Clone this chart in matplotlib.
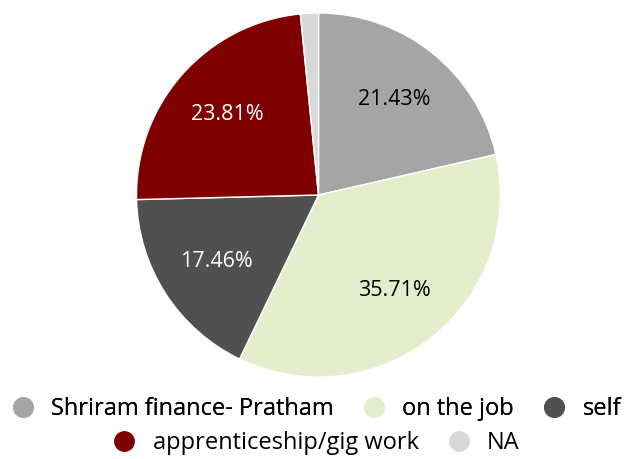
import matplotlib
matplotlib.use('Agg')
import matplotlib.pyplot as plt
from matplotlib.lines import Line2D

labels = ['Shriram finance- Pratham', 'on the job', 'self',
          'apprenticeship/gig work', 'NA']
values = [21.43, 35.71, 17.46, 23.81, 1.59]
colors = ['#a5a5a5', '#e4eecd', '#505050', '#7f0000', '#d8d8d8']
text_colors = ['black', 'black', 'white', 'white', 'black']

plt.rcParams['font.family'] = ['Open Sans', 'DejaVu Sans']

fig = plt.figure(figsize=(6.32, 4.59), dpi=100)
ax = fig.add_axes([136.5 / 632, 82 / 459, 364 / 632, 364 / 459])

wedges, texts, autotexts = ax.pie(
    values, colors=colors, startangle=90, counterclock=False,
    autopct=lambda p: f'{p:.2f}%' if p > 5 else '', pctdistance=0.67,
    wedgeprops=dict(edgecolor='white', linewidth=1.0),
    textprops=dict(fontsize=15.5))
for t, c in zip(autotexts, text_colors):
    t.set_color(c)
ax.set_xlim(-1, 1)
ax.set_ylim(-1, 1)
ax.set_aspect('equal')

handles = [Line2D([], [], marker='o', ls='', markersize=14,
                  markerfacecolor=c, markeredgecolor=c) for c in colors]

leg_kw = dict(frameon=False, fontsize=17, handletextpad=0.7,
              columnspacing=1.2, handlelength=1.0, loc='center')
leg1 = fig.legend(handles[:3], labels[:3], ncol=3,
                  bbox_to_anchor=(0.5, 1 - 409 / 459), **leg_kw)
fig.add_artist(leg1)
fig.legend(handles[3:], labels[3:], ncol=2,
           bbox_to_anchor=(0.5, 1 - 443 / 459), **leg_kw)

fig.savefig('out.png', dpi=100)
